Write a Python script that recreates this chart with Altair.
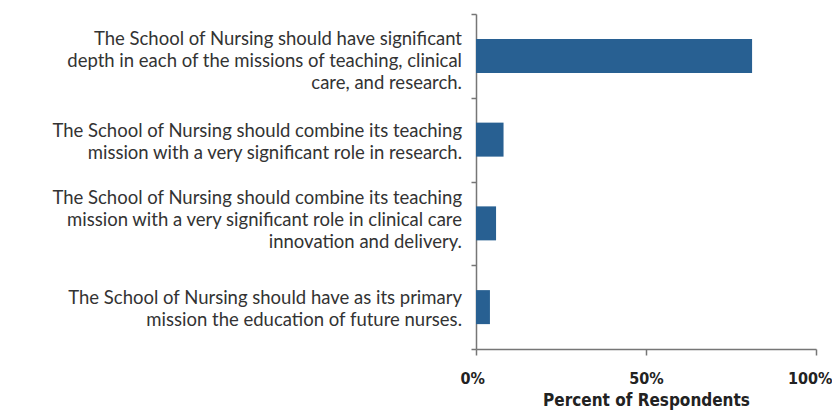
import altair as alt
import pandas as pd

categories = [
    "The School of Nursing should have significant|depth in each of the missions of teaching, clinical|care, and research.",
    "The School of Nursing should combine its teaching|mission with a very significant role in research.",
    "The School of Nursing should combine its teaching|mission with a very significant role in clinical care|innovation and delivery.",
    "The School of Nursing should have as its primary|mission the education of future nurses.",
]
values = [0.812, 0.081, 0.059, 0.041]
x_ticks = [0, 0.5, 1.0]

df = pd.DataFrame({"cat": categories, "val": values})

label_font = "Lato, Open Sans, sans-serif"
bold_font = "Liberation Sans Narrow, DejaVu Sans Condensed, sans-serif"
axis_gray = "#767676"

y_enc = alt.Y(
    "cat:N",
    sort=categories,
    scale=alt.Scale(paddingInner=0, paddingOuter=0),
    axis=alt.Axis(
        title=None,
        tickBand="extent",
        grid=False,
        labels=False,
        domainColor=axis_gray,
        domainWidth=1.5,
        tickColor=axis_gray,
        tickWidth=1.5,
        tickSize=5,
    ),
)

bars = alt.Chart(df).mark_bar(color="#286092", size=34).encode(
    x=alt.X(
        "val:Q",
        scale=alt.Scale(domain=[0, 1], nice=False),
        axis=alt.Axis(
            values=x_ticks,
            format=".0%",
            title="Percent of Respondents",
            grid=False,
            domainColor=axis_gray,
            domainWidth=1.5,
            tickColor=axis_gray,
            tickWidth=1.5,
            tickSize=6,
            labelFont=bold_font,
            labelFontWeight="bold",
            labelFontSize=16,
            labelColor="#222222",
            labelPadding=15,
            labelFlush=True,
            labelFlushOffset=16,
            titleFont=bold_font,
            titleFontWeight="bold",
            titleFontSize=17,
            titleColor="#222222",
            titlePadding=6,
        ),
    ),
    y=y_enc,
)

label_base = alt.Chart(df).transform_window(
    idx="row_number()",
).transform_calculate(
    lines="split(datum.cat, '|')",
    n="length(split(datum.cat, '|'))",
)


def label_layer(cond, dy):
    return label_base.transform_filter(cond).mark_text(
        align="right",
        baseline="middle",
        font=label_font,
        fontSize=18.5,
        color="#333333",
        lineHeight=22,
        dy=dy,
    ).encode(
        x=alt.value(-14),
        y=y_enc,
        text="lines:N",
    )


chart = alt.layer(
    bars,
    label_layer("datum.n == 2", -9),
    label_layer("datum.n == 3 && datum.idx == 1", -17),
    label_layer("datum.n == 3 && datum.idx != 1", -25),
).properties(
    width=340,
    height=335,
    autosize=alt.AutoSizeParams(type="none"),
    padding={"left": 468, "top": 6, "right": 16, "bottom": 62},
).configure_view(stroke=None)

chart.save("out.html", embed_options={"renderer": "svg", "actions": False})
